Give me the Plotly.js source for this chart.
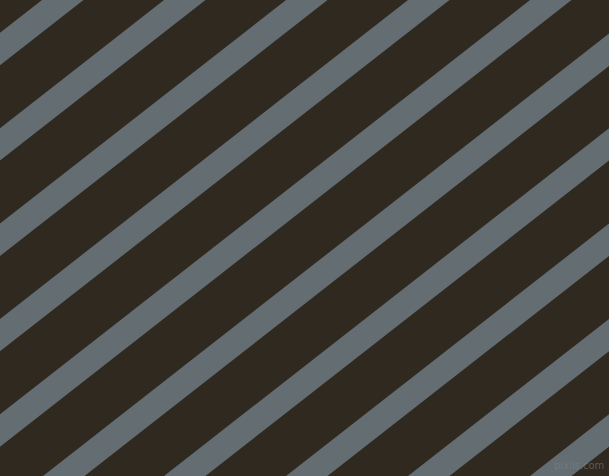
<!DOCTYPE html>
<html>
<head>
<meta charset="utf-8">
<script src="https://cdn.plot.ly/plotly-3.0.1.min.js"></script>
<style>
html,body{margin:0;padding:0;background:#2f2920;overflow:hidden;}
#chart{width:609px;height:476px;}
</style>
</head>
<body>
<div id="chart"></div>
<script>
// Where each grey stripe's upper edge meets the top edge (x, in px of the 609x476 canvas)
const stripeStarts = [42, 164, 286, 408, 530, 652, 773, 895, 1017, 1139];
// Horizontal shift of a stripe from top edge to bottom edge
const stripeShift = [609];
const stripeWidth = [41.5];
const watermark = ["pixlis.com"];

const W = 609, H = 476;
const bg = "#2f2920", stripe = "#636d72";

const traces = stripeStarts.map(a => ({
  type: "scatter",
  mode: "lines",
  x: [a, a + stripeWidth[0], a + stripeWidth[0] - stripeShift[0], a - stripeShift[0], a],
  y: [0, 0, H, H, 0],
  fill: "toself",
  fillcolor: stripe,
  line: {width: 0, color: stripe},
  hoverinfo: "skip",
  showlegend: false
}));

const layout = {
  width: W, height: H,
  margin: {l: 0, r: 0, t: 0, b: 0, pad: 0},
  paper_bgcolor: bg, plot_bgcolor: bg,
  xaxis: {range: [0, W], visible: false, fixedrange: true},
  yaxis: {range: [H, 0], visible: false, fixedrange: true},
  annotations: [{
    text: watermark[0], x: 606, y: 473, xref: "x", yref: "y",
    xanchor: "right", yanchor: "bottom", showarrow: false,
    font: {family: "DejaVu Sans", size: 10, color: "rgba(128,134,136,0.55)"}
  }]
};

Plotly.newPlot("chart", traces, layout, {staticPlot: true, displayModeBar: false});
</script>
</body>
</html>
